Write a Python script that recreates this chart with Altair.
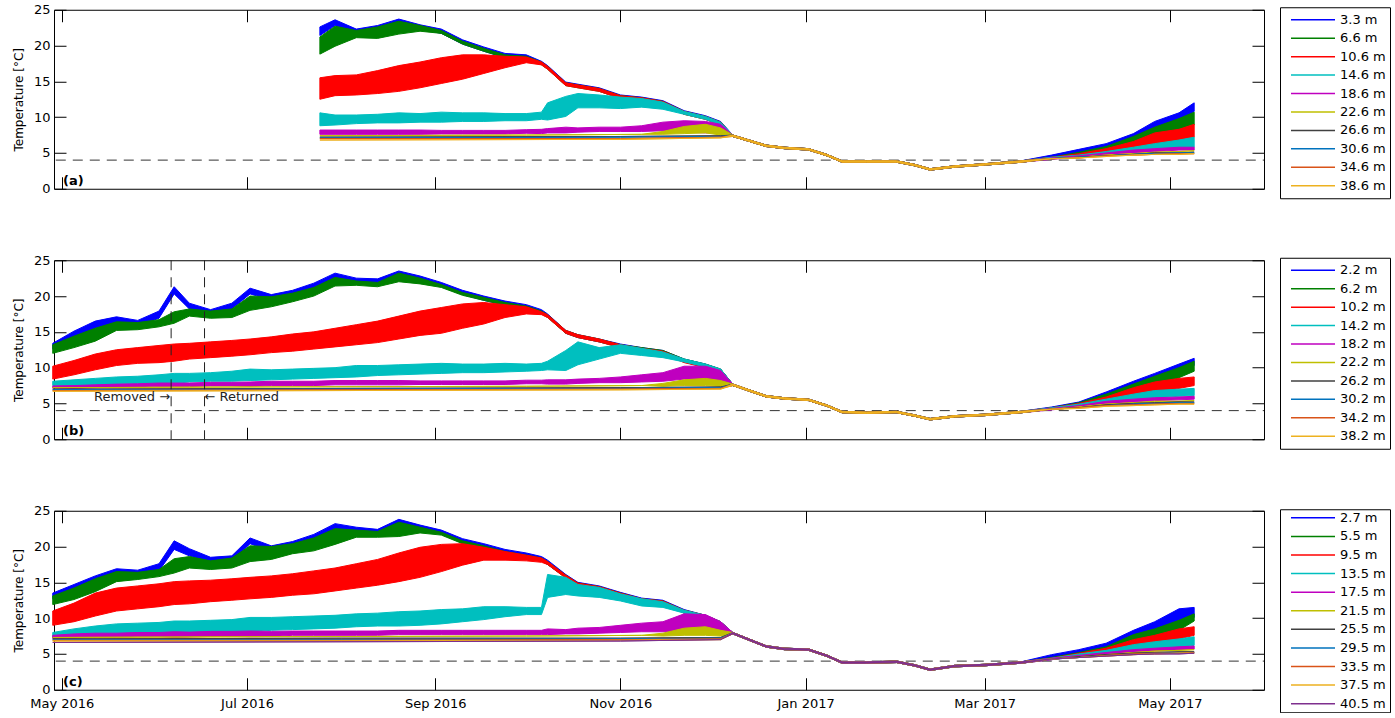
import altair as alt
import pandas as pd

FONT = "DejaVu Sans"

# ---------------- date grids ----------------
PRE_BC = ["2016-04-28", "2016-05-05", "2016-05-12", "2016-05-19", "2016-05-26", "2016-06-02",
          "2016-06-07", "2016-06-12", "2016-06-19", "2016-06-26", "2016-07-02", "2016-07-09",
          "2016-07-16", "2016-07-23", "2016-07-30", "2016-08-06", "2016-08-13", "2016-08-20",
          "2016-08-27", "2016-09-03", "2016-09-10", "2016-09-17", "2016-09-24", "2016-10-01",
          "2016-10-06", "2016-10-08", "2016-10-14", "2016-10-18", "2016-10-25", "2016-11-01",
          "2016-11-08", "2016-11-15", "2016-11-22", "2016-11-29", "2016-12-04"]
PRE_A = ["2016-07-25", "2016-07-30", "2016-08-06", "2016-08-13", "2016-08-20", "2016-08-27",
         "2016-09-03", "2016-09-10", "2016-09-17", "2016-09-24", "2016-10-01", "2016-10-06",
         "2016-10-08", "2016-10-14", "2016-10-18", "2016-10-25", "2016-11-01", "2016-11-08",
         "2016-11-15", "2016-11-22", "2016-11-29", "2016-12-04"]
SPRING = ["2017-03-23", "2017-04-01", "2017-04-10", "2017-04-19", "2017-04-26", "2017-05-04", "2017-05-09"]
WINTER = ["2016-12-08", "2016-12-19", "2016-12-25", "2017-01-02", "2017-01-08", "2017-01-13",
          "2017-01-21", "2017-01-31", "2017-02-06", "2017-02-11", "2017-02-19", "2017-03-01", "2017-03-13"]

# mixed (isothermal) winter temperatures, shared by all loggers of a mooring
A_WINTER_T = [7.4, 6.0, 5.7, 5.5, 4.7, 3.8, 3.8, 3.8, 3.3, 2.7, 3.1, 3.4, 3.8]
B_WINTER_T = [7.6, 6.0, 5.7, 5.5, 4.7, 3.8, 3.7, 3.8, 3.3, 2.8, 3.2, 3.4, 3.8]
C_WINTER_T = [7.9, 6.05, 5.7, 5.6, 4.75, 3.8, 3.8, 3.9, 3.4, 2.8, 3.3, 3.45, 3.8]
WINTER_SPREAD = 0.1

# ---------------- panel (a): (value, noise half-range) on PRE_A + SPRING ----------------
A_3_3 = [(22.0, .6), (23.2, .4), (22.0, .3), (22.4, .4), (23.3, .4), (22.6, .3), (22.0, .3), (20.5, .3),
         (19.5, .3), (18.6, .3), (18.4, .3), (17.6, .2), (17.0, .2), (14.7, .2), (14.4, .2), (13.9, .2),
         (12.9, .2), (12.6, .2), (12.1, .2), (10.7, .2), (10.0, .2), (9.2, .2),
         (4.5, .2), (5.2, .3), (6.0, .3), (7.2, .5), (8.8, .6), (9.9, .7), (11.4, .6)]
A_6_6 = [(20.0, 1.2), (21.3, 1.4), (21.6, .5), (21.8, .8), (22.5, .9), (22.4, .4), (21.9, .2), (20.4, .2),
         (19.4, .2), (18.5, .2), (18.3, .2), (17.5, .2), (16.9, .2), (14.6, .2), (14.3, .2), (13.8, .2),
         (12.8, .2), (12.5, .2), (12.0, .2), (10.6, .2), (9.9, .2), (9.1, .2),
         (4.3, .1), (4.9, .2), (5.6, .3), (6.7, .6), (7.8, .8), (8.8, 1.0), (9.8, .9)]
A_10_6 = [(14.0, 1.5), (14.4, 1.4), (14.5, 1.4), (14.9, 1.6), (15.4, 1.8), (15.9, 1.8), (16.5, 1.8), (17.0, 1.7),
          (17.4, 1.3), (17.7, .8), (18.0, .4), (17.5, .2), (16.9, .2), (14.6, .2), (14.3, .2), (13.8, .2),
          (12.8, .2), (12.5, .2), (12.0, .2), (10.6, .2), (9.9, .2), (9.1, .2),
          (4.3, .1), (4.7, .2), (5.3, .3), (6.0, .6), (6.8, 1.0), (7.3, 1.0), (8.1, .9)]
A_14_6 = [(9.7, .9), (9.6, .7), (9.7, .6), (9.8, .6), (9.9, .7), (9.9, .6), (10.0, .7), (10.0, .6),
          (10.0, .6), (10.0, .5), (10.0, .5), (10.2, .5), (10.8, 1.2), (11.5, 1.4), (12.3, 1.0), (12.2, .9),
          (12.0, .8), (12.0, .6), (11.6, .5), (10.6, .2), (9.9, .2), (9.1, .2),
          (4.3, .1), (4.6, .1), (5.0, .2), (5.5, .3), (5.8, .5), (6.2, .6), (6.5, .7)]
A_18_6 = [(7.9, .3), (7.9, .3), (7.9, .3), (7.9, .3), (7.9, .3), (7.9, .3), (7.9, .25), (7.9, .25),
          (7.9, .25), (7.9, .25), (8.0, .25), (8.0, .3), (8.1, .3), (8.2, .4), (8.2, .3), (8.3, .3),
          (8.3, .3), (8.4, .4), (8.7, .6), (8.7, .8), (8.6, .8), (8.4, .6),
          (4.2, .1), (4.5, .1), (4.9, .1), (5.2, .2), (5.4, .2), (5.6, .2), (5.6, .2)]
# deeper loggers: (date, value[, noise])
A_22_6 = [("2016-07-25", 7.4), ("2016-10-01", 7.5), ("2016-11-08", 7.6), ("2016-11-15", 7.8, .2),
          ("2016-11-22", 8.2, .5), ("2016-11-29", 8.4, .6), ("2016-12-04", 8.0, .5),
          ("2017-03-23", 4.2), ("2017-04-01", 4.4), ("2017-04-10", 4.7), ("2017-04-19", 4.9),
          ("2017-04-26", 5.1), ("2017-05-04", 5.2), ("2017-05-09", 5.3)]
A_26_6 = [("2016-07-25", 7.2), ("2016-11-01", 7.3), ("2016-12-04", 7.4),
          ("2017-03-23", 4.2), ("2017-04-01", 4.4), ("2017-04-10", 4.6), ("2017-04-19", 4.8),
          ("2017-04-26", 5.0), ("2017-05-04", 5.0), ("2017-05-09", 5.1)]
A_30_6 = [("2016-07-25", 7.1), ("2016-11-01", 7.2), ("2016-12-04", 7.3),
          ("2017-03-23", 4.2), ("2017-04-01", 4.4), ("2017-04-10", 4.6), ("2017-04-19", 4.8),
          ("2017-04-26", 4.9), ("2017-05-04", 5.0), ("2017-05-09", 5.0)]
A_34_6 = [("2016-07-25", 7.0), ("2016-11-01", 7.0), ("2016-12-04", 7.2),
          ("2017-03-23", 4.2), ("2017-04-01", 4.3), ("2017-04-10", 4.6), ("2017-04-19", 4.7),
          ("2017-04-26", 4.8), ("2017-05-04", 4.9), ("2017-05-09", 4.9)]
A_38_6 = [("2016-07-25", 6.8), ("2016-11-01", 6.9), ("2016-12-04", 7.1),
          ("2017-03-23", 4.2), ("2017-04-01", 4.3), ("2017-04-10", 4.5), ("2017-04-19", 4.7),
          ("2017-04-26", 4.8), ("2017-05-04", 4.8), ("2017-05-09", 4.9)]

# ---------------- panel (b): on PRE_BC + SPRING ----------------
B_2_2 = [(13.0, .4), (14.6, .5), (16.0, .5), (16.7, .4), (16.2, .4), (17.4, .5), (20.8, .5), (18.6, .4),
         (17.8, .3), (18.6, .4), (20.7, .4), (19.8, .4), (20.4, .4), (21.4, .4), (22.8, .4), (22.2, .3),
         (22.1, .3), (23.1, .4), (22.5, .3), (21.6, .3), (20.5, .3), (19.7, .3), (19.0, .3), (18.5, .3),
         (17.8, .3), (17.3, .2), (15.0, .2), (14.4, .2), (13.8, .2), (13.1, .2), (12.6, .2), (12.2, .2),
         (11.0, .2), (10.3, .2), (9.6, .2),
         (4.4, .1), (5.0, .2), (6.3, .3), (7.5, .6), (8.6, .6), (9.8, .7), (10.8, .5)]
B_6_2 = [(12.6, .6), (13.6, .8), (14.6, .9), (15.8, .6), (15.8, .5), (16.2, .5), (17.0, .8), (17.7, .5),
         (17.4, .5), (17.6, .6), (19.0, 1.0), (19.2, .7), (19.8, .6), (20.6, .6), (22.0, .6), (21.8, .3),
         (21.6, .3), (22.6, .6), (22.1, .4), (21.4, .2), (20.3, .2), (19.6, .2), (18.9, .2), (18.4, .2),
         (17.7, .2), (17.2, .2), (15.0, .2), (14.4, .2), (13.8, .2), (13.0, .2), (12.6, .2), (12.2, .2),
         (11.0, .2), (10.3, .2), (9.6, .2),
         (4.3, .1), (4.9, .2), (6.0, .3), (7.2, .5), (8.2, .6), (9.3, .7), (10.2, .7)]
B_10_2 = [(9.3, .9), (10.0, 1.0), (10.8, 1.1), (11.4, 1.1), (11.7, 1.1), (11.9, 1.2), (12.1, 1.2), (12.3, 1.1),
          (12.5, 1.1), (12.7, 1.1), (12.9, 1.1), (13.2, 1.1), (13.5, 1.2), (13.8, 1.2), (14.2, 1.3), (14.6, 1.4),
          (15.0, 1.5), (15.6, 1.6), (16.2, 1.7), (16.6, 1.8), (17.2, 1.7), (17.6, 1.5), (17.9, .9), (18.0, .5),
          (17.6, .2), (17.2, .2), (15.0, .2), (14.4, .2), (13.8, .2), (13.0, .2), (12.5, .2), (12.1, .2),
          (10.9, .2), (10.2, .2), (9.5, .2),
          (4.3, .1), (4.8, .2), (5.6, .3), (6.7, .5), (7.3, .7), (7.8, .7), (8.1, .6)]
B_14_2 = [(7.8, .3), (7.9, .4), (8.0, .5), (8.2, .5), (8.3, .5), (8.4, .6), (8.5, .7), (8.6, .6),
          (8.7, .6), (8.8, .7), (9.0, .8), (9.0, .7), (9.1, .7), (9.2, .7), (9.3, .7), (9.5, .8),
          (9.6, .7), (9.7, .7), (9.8, .7), (9.9, .7), (9.9, .6), (9.9, .6), (10.0, .6), (10.0, .5),
          (10.1, .5), (10.3, .6), (11.0, 1.4), (12.0, 1.6), (12.0, .8), (12.6, .6), (12.2, .5), (11.8, .4),
          (11.0, .2), (10.3, .2), (9.6, .2),
          (4.3, .1), (4.7, .2), (5.3, .3), (5.9, .4), (6.3, .5), (6.5, .5), (6.6, .5)]
B_18_2 = [(7.3, .15), (7.3, .2), (7.4, .2), (7.5, .2), (7.5, .25), (7.6, .25), (7.6, .25), (7.6, .25),
          (7.7, .25), (7.7, .25), (7.7, .3), (7.8, .3), (7.8, .3), (7.8, .3), (7.9, .3), (7.9, .3),
          (7.9, .3), (7.9, .3), (7.9, .25), (7.9, .25), (7.9, .25), (7.9, .25), (7.9, .25), (8.0, .25),
          (8.0, .25), (8.0, .3), (8.0, .3), (8.1, .3), (8.2, .3), (8.3, .4), (8.5, .5), (8.7, .6),
          (9.3, .9), (9.2, 1.0), (8.8, .8),
          (4.2, .1), (4.6, .1), (5.1, .2), (5.4, .2), (5.6, .2), (5.7, .2), (5.8, .2)]
B_22_2 = [("2016-04-28", 7.2), ("2016-07-01", 7.3), ("2016-10-01", 7.4), ("2016-11-08", 7.5),
          ("2016-11-15", 7.6, .2), ("2016-11-22", 7.9, .4), ("2016-11-29", 8.0, .5), ("2016-12-04", 7.8, .4),
          ("2017-03-23", 4.2), ("2017-04-01", 4.5), ("2017-04-10", 4.9), ("2017-04-19", 5.1),
          ("2017-04-26", 5.3), ("2017-05-04", 5.3), ("2017-05-09", 5.4)]
B_26_2 = [("2016-04-28", 7.0), ("2016-08-01", 7.1), ("2016-11-01", 7.2), ("2016-12-04", 7.3),
          ("2017-03-23", 4.2), ("2017-04-01", 4.4), ("2017-04-10", 4.8), ("2017-04-19", 5.0),
          ("2017-04-26", 5.1), ("2017-05-04", 5.2), ("2017-05-09", 5.2)]
B_30_2 = [("2016-04-28", 6.9), ("2016-08-01", 7.0), ("2016-11-01", 7.1), ("2016-12-04", 7.2),
          ("2017-03-23", 4.2), ("2017-04-01", 4.4), ("2017-04-10", 4.7), ("2017-04-19", 4.9),
          ("2017-04-26", 5.0), ("2017-05-04", 5.1), ("2017-05-09", 5.1)]
B_34_2 = [("2016-04-28", 6.8), ("2016-08-01", 6.9), ("2016-11-01", 7.0), ("2016-12-04", 7.1),
          ("2017-03-23", 4.2), ("2017-04-01", 4.4), ("2017-04-10", 4.7), ("2017-04-19", 4.8),
          ("2017-04-26", 4.9), ("2017-05-04", 5.0), ("2017-05-09", 5.0)]
B_38_2 = [("2016-04-28", 6.7), ("2016-08-01", 6.8), ("2016-11-01", 6.9), ("2016-12-04", 7.0),
          ("2017-03-23", 4.2), ("2017-04-01", 4.3), ("2017-04-10", 4.6), ("2017-04-19", 4.7),
          ("2017-04-26", 4.8), ("2017-05-04", 4.9), ("2017-05-09", 4.9)]

# ---------------- panel (c): on PRE_BC + SPRING ----------------
C_2_7 = [(13.1, .4), (14.2, .5), (15.4, .5), (16.5, .4), (16.3, .4), (17.1, .5), (20.2, .6), (19.2, .5),
         (18.1, .4), (18.3, .4), (20.8, .4), (19.7, .4), (20.3, .4), (21.3, .4), (22.8, .4), (22.4, .3),
         (22.1, .3), (23.4, .4), (22.7, .3), (22.0, .3), (20.8, .3), (20.1, .3), (19.3, .3), (18.8, .3),
         (18.3, .3), (17.8, .3), (15.9, .2), (14.8, .2), (14.3, .2), (13.4, .2), (12.6, .2), (12.3, .2),
         (11.0, .2), (10.2, .2), (9.3, .2),
         (4.6, .3), (5.2, .4), (6.0, .5), (7.7, .6), (8.8, .7), (10.4, .9), (10.8, .7)]
C_5_5 = [(12.5, .6), (13.4, .8), (14.6, .9), (15.8, .7), (15.9, .5), (16.3, .5), (17.3, 1.0), (17.8, .8),
         (17.4, .6), (17.7, .7), (19.0, 1.1), (19.1, .9), (19.7, .7), (20.3, .9), (21.4, 1.1), (21.8, .5),
         (21.7, .4), (22.4, 1.0), (22.3, .4), (21.8, .2), (20.6, .2), (19.9, .2), (19.1, .2), (18.6, .2),
         (18.2, .2), (17.7, .2), (15.8, .2), (14.7, .2), (14.2, .2), (13.3, .2), (12.5, .2), (12.2, .2),
         (10.9, .2), (10.2, .2), (9.3, .2),
         (4.4, .1), (5.0, .2), (5.7, .3), (7.2, .5), (7.9, .6), (9.0, .7), (10.1, .5)]
C_9_5 = [(10.0, 1.0), (10.8, 1.3), (11.9, 1.6), (12.6, 1.6), (12.9, 1.6), (13.2, 1.6), (13.5, 1.6), (13.6, 1.6),
         (13.8, 1.5), (14.0, 1.5), (14.2, 1.5), (14.4, 1.5), (14.7, 1.5), (15.0, 1.6), (15.4, 1.6), (15.9, 1.7),
         (16.4, 1.8), (17.1, 2.0), (17.8, 2.1), (18.4, 1.9), (18.9, 1.5), (19.0, .9), (18.7, .6), (18.4, .4),
         (18.1, .3), (17.7, .2), (15.8, .2), (14.7, .2), (14.2, .2), (13.3, .2), (12.5, .2), (12.2, .2),
         (10.9, .2), (10.2, .2), (9.3, .2),
         (4.3, .1), (4.9, .2), (5.5, .3), (6.5, .5), (7.0, .6), (7.8, .7), (8.2, .6)]
C_13_5 = [(7.6, .4), (7.9, .6), (8.2, .7), (8.4, .8), (8.5, .8), (8.6, .8), (8.7, .9), (8.7, .9),
          (8.8, .9), (8.9, .9), (9.1, 1.0), (9.2, .9), (9.3, .9), (9.4, .9), (9.5, .9), (9.7, .9),
          (9.8, .9), (9.9, 1.0), (10.0, 1.0), (10.2, 1.0), (10.4, .9), (10.7, .9), (10.9, .7), (11.0, .5),
          (11.0, .5), (14.5, 1.6), (14.5, 1.2), (13.9, .8), (13.6, .7), (12.9, .5), (12.2, .5), (11.9, .4),
          (10.9, .2), (10.2, .2), (9.3, .2),
          (4.3, .1), (4.8, .2), (5.2, .3), (5.9, .4), (6.2, .5), (6.5, .6), (6.8, .6)]
C_17_5 = [(7.4, .2), (7.5, .3), (7.6, .3), (7.6, .3), (7.7, .3), (7.7, .3), (7.7, .4), (7.7, .35),
          (7.8, .35), (7.8, .35), (7.8, .4), (7.8, .35), (7.9, .3), (7.9, .3), (7.9, .3), (7.9, .3),
          (7.9, .3), (8.0, .3), (8.0, .3), (8.0, .3), (8.0, .3), (8.0, .3), (8.0, .3), (8.0, .3),
          (8.0, .3), (8.1, .4), (8.1, .3), (8.2, .4), (8.3, .4), (8.5, .5), (8.7, .6), (8.8, .7),
          (9.4, 1.2), (9.3, 1.2), (8.7, .8),
          (4.3, .1), (4.7, .1), (5.0, .2), (5.4, .2), (5.6, .2), (5.8, .2), (5.9, .2)]
C_21_5 = [("2016-04-28", 7.3), ("2016-07-01", 7.4), ("2016-10-01", 7.5), ("2016-11-08", 7.6),
          ("2016-11-15", 7.7, .2), ("2016-11-22", 8.1, .5), ("2016-11-29", 8.2, .6), ("2016-12-04", 7.9, .4),
          ("2017-03-23", 4.3), ("2017-04-01", 4.6), ("2017-04-10", 4.9), ("2017-04-19", 5.2),
          ("2017-04-26", 5.4), ("2017-05-04", 5.5), ("2017-05-09", 5.6)]
C_25_5 = [("2016-04-28", 7.1), ("2016-08-01", 7.2), ("2016-11-01", 7.2), ("2016-12-04", 7.3),
          ("2017-03-23", 4.3), ("2017-04-01", 4.6), ("2017-04-10", 4.9), ("2017-04-19", 5.1),
          ("2017-04-26", 5.2), ("2017-05-04", 5.3), ("2017-05-09", 5.3)]
C_29_5 = [("2016-04-28", 7.0), ("2016-08-01", 7.0), ("2016-11-01", 7.1), ("2016-12-04", 7.2),
          ("2017-03-23", 4.3), ("2017-04-01", 4.5), ("2017-04-10", 4.8), ("2017-04-19", 5.0),
          ("2017-04-26", 5.1), ("2017-05-04", 5.2), ("2017-05-09", 5.2)]
C_33_5 = [("2016-04-28", 6.9), ("2016-08-01", 6.9), ("2016-11-01", 7.0), ("2016-12-04", 7.1),
          ("2017-03-23", 4.3), ("2017-04-01", 4.5), ("2017-04-10", 4.8), ("2017-04-19", 5.0),
          ("2017-04-26", 5.1), ("2017-05-04", 5.1), ("2017-05-09", 5.2)]
C_37_5 = [("2016-04-28", 6.8), ("2016-08-01", 6.8), ("2016-11-01", 6.9), ("2016-12-04", 7.0),
          ("2017-03-23", 4.3), ("2017-04-01", 4.5), ("2017-04-10", 4.7), ("2017-04-19", 4.9),
          ("2017-04-26", 5.0), ("2017-05-04", 5.1), ("2017-05-09", 5.1)]
C_40_5 = [("2016-04-28", 6.6), ("2016-08-01", 6.7), ("2016-11-01", 6.8), ("2016-12-04", 7.0),
          ("2017-03-23", 4.3), ("2017-04-01", 4.5), ("2017-04-10", 4.7), ("2017-04-19", 4.9),
          ("2017-04-26", 5.0), ("2017-05-04", 5.0), ("2017-05-09", 5.1)]

# ---------------- legends / colours ----------------
A_DEPTHS = ["3.3 m", "6.6 m", "10.6 m", "14.6 m", "18.6 m", "22.6 m", "26.6 m", "30.6 m", "34.6 m", "38.6 m"]
B_DEPTHS = ["2.2 m", "6.2 m", "10.2 m", "14.2 m", "18.2 m", "22.2 m", "26.2 m", "30.2 m", "34.2 m", "38.2 m"]
C_DEPTHS = ["2.7 m", "5.5 m", "9.5 m", "13.5 m", "17.5 m", "21.5 m", "25.5 m", "29.5 m", "33.5 m", "37.5 m", "40.5 m"]
COLORS_10 = ["#0000FF", "#008000", "#FF0000", "#00BFBF", "#BF00BF", "#BFBF00", "#404040",
             "#0072BD", "#D95319", "#EDB120"]
COLORS_11 = COLORS_10 + ["#7E2F8E"]

THRESHOLD = 4.0
EVENT_DATES = ["2016-06-06", "2016-06-17"]
EVENT_LABELS = ["Removed \u2192", "\u2190 Returned"]
EVENT_TEMP = 5.9
TICK_MONTHS = [(2016, 5), (2016, 7), (2016, 9), (2016, 11), (2017, 1), (2017, 3), (2017, 5)]
Y_TICKS = [0, 5, 10, 15, 20, 25]

# ---------------- build tables ----------------
def top_rows(label, pre_dates, pairs, winter):
    n = len(pre_dates)
    rows = []
    for d, (v, s) in zip(pre_dates, pairs[:n]):
        rows.append((label, d, v - s, v + s))
    for d, v in zip(WINTER, winter):
        rows.append((label, d, v - WINTER_SPREAD, v + WINTER_SPREAD))
    for d, (v, s) in zip(SPRING, pairs[n:]):
        rows.append((label, d, v - s, v + s))
    return rows


def deep_rows(label, pts, winter):
    items = []
    for p in pts:
        s = p[2] if len(p) > 2 else 0.0
        items.append((p[0], p[1] - s, p[1] + s))
    for d, v in zip(WINTER, winter):
        items.append((d, v - WINTER_SPREAD, v + WINTER_SPREAD))
    items.sort(key=lambda r: r[0])
    return [(label, d, lo, hi) for d, lo, hi in items]


def table(depths, tops, deeps, pre, winter):
    rows = []
    for lab, ser in zip(depths, tops + deeps):
        if isinstance(ser[0][0], str):
            rows += deep_rows(lab, ser, winter)
        else:
            rows += top_rows(lab, pre, ser, winter)
    return pd.DataFrame(rows, columns=["depth", "date", "lo", "hi"])


DF_A = table(A_DEPTHS, [A_3_3, A_6_6, A_10_6, A_14_6, A_18_6],
             [A_22_6, A_26_6, A_30_6, A_34_6, A_38_6], PRE_A, A_WINTER_T)
DF_B = table(B_DEPTHS, [B_2_2, B_6_2, B_10_2, B_14_2, B_18_2],
             [B_22_2, B_26_2, B_30_2, B_34_2, B_38_2], PRE_BC, B_WINTER_T)
DF_C = table(C_DEPTHS, [C_2_7, C_5_5, C_9_5, C_13_5, C_17_5],
             [C_21_5, C_25_5, C_29_5, C_33_5, C_37_5, C_40_5], PRE_BC, C_WINTER_T)

# ---------------- chart ----------------
W, H, TICK = 1210, 179, 12
LEG_W = 110
TICK_DATES = [alt.DateTime(year=y, month=m, date=1, utc=True) for y, m in TICK_MONTHS]
X_DOMAIN = [alt.DateTime(year=2016, month=4, date=28, hours=10, utc=True),
            alt.DateTime(year=2017, month=6, date=1, utc=True)]


def xscale():
    return alt.Scale(type="utc", domain=X_DOMAIN)


def yscale():
    return alt.Scale(domain=[0, 25], nice=False)


def legend_box(depths, colors, height, pad):
    ldf = pd.DataFrame({"depth": depths})
    yenc = alt.Y("depth:N", scale=alt.Scale(type="point", domain=depths, padding=pad), axis=None)
    cenc = alt.Color("depth:N", scale=alt.Scale(domain=depths, range=colors), legend=None)
    lines = alt.Chart(ldf).mark_rule(strokeWidth=1.5).encode(
        x=alt.value(11), x2=alt.value(55), y=yenc, color=cenc)
    labels = alt.Chart(ldf).mark_text(align="left", baseline="middle", fontSize=13, font=FONT,
                                      color="black").encode(x=alt.value(60), y=yenc, text="depth:N")
    return alt.layer(lines, labels).properties(width=LEG_W, height=height)


def panel(df, depths, colors, tag, show_labels, leg_h, leg_pad, extras=()):
    x_bottom = alt.Axis(orient="bottom", offset=-TICK, tickSize=TICK, domain=False, grid=False,
                        values=TICK_DATES, format="%b %Y", labels=show_labels, labelPadding=8,
                        labelFlush=False, labelOverlap=False, title=None, tickColor="black")
    x_top = alt.Axis(orient="top", offset=-TICK, tickSize=TICK, domain=False, grid=False,
                     values=TICK_DATES, labels=False, title=None, tickColor="black")
    y_left = alt.Axis(orient="left", offset=-TICK, tickSize=TICK, domain=False, grid=False,
                      values=Y_TICKS, labelPadding=4, title="Temperature [\u00b0C]",
                      titlePadding=8, tickColor="black")
    y_right = alt.Axis(orient="right", offset=-TICK, tickSize=TICK, domain=False, grid=False,
                       values=Y_TICKS, labels=False, title=None, tickColor="black")

    thr = alt.Chart(pd.DataFrame({"x0": ["2016-04-01"], "x1": ["2017-07-01"], "y": [THRESHOLD]})).mark_rule(
        strokeDash=[10, 7], color="#333333", strokeWidth=1, clip=True
    ).encode(
        x=alt.X("x0:T", scale=xscale(), axis=x_top),
        x2="x1:T",
        y=alt.Y("y:Q", scale=yscale(), axis=y_right),
    )

    area = alt.Chart(df).mark_area(strokeWidth=1, fillOpacity=1, strokeJoin="round").encode(
        x=alt.X("date:T", scale=xscale(), axis=x_bottom),
        y=alt.Y("lo:Q", scale=yscale(), axis=y_left),
        y2="hi:Q",
        fill=alt.Fill("depth:N", scale=alt.Scale(domain=depths, range=colors), legend=None),
        stroke=alt.Stroke("depth:N", scale=alt.Scale(domain=depths, range=colors), legend=None),
    )

    tag_layer = alt.Chart(pd.DataFrame({"t": [tag]})).mark_text(
        align="left", baseline="bottom", fontWeight="bold", fontSize=13, font=FONT, color="black"
    ).encode(x=alt.value(9), y=alt.value(H - 1), text="t:N")

    main = alt.layer(thr, area, tag_layer, *extras).resolve_axis(
        x="independent", y="independent"
    ).properties(width=W, height=H)

    return alt.hconcat(main, legend_box(depths, colors, leg_h, leg_pad), spacing=14, center=True).resolve_scale(
        x="independent", y="independent", color="independent", fill="independent", stroke="independent"
    )


ev_df = pd.DataFrame({"date": EVENT_DATES, "label": EVENT_LABELS, "t": [EVENT_TEMP, EVENT_TEMP]})
ev_rules = alt.Chart(ev_df).mark_rule(strokeDash=[10, 7], color="#222222", strokeWidth=1).encode(
    x=alt.X("date:T", scale=xscale(), axis=None)
)
ev_left = alt.Chart(ev_df.iloc[[0]]).mark_text(
    align="right", baseline="middle", fontSize=13, font=FONT, color="#222222", dx=-1
).encode(x=alt.X("date:T", scale=xscale(), axis=None), y=alt.Y("t:Q", scale=yscale(), axis=None), text="label:N")
ev_right = alt.Chart(ev_df.iloc[[1]]).mark_text(
    align="left", baseline="middle", fontSize=13, font=FONT, color="#222222", dx=0
).encode(x=alt.X("date:T", scale=xscale(), axis=None), y=alt.Y("t:Q", scale=yscale(), axis=None), text="label:N")

pa = panel(DF_A, A_DEPTHS, COLORS_10, "(a)", False, 191, 0.68)
pb = panel(DF_B, B_DEPTHS, COLORS_10, "(b)", False, 191, 0.68, extras=(ev_rules, ev_left, ev_right))
pc = panel(DF_C, C_DEPTHS, COLORS_11, "(c)", True, 203, 0.46)

chart = alt.vconcat(pa, pb, pc, spacing=54.5).resolve_scale(
    x="independent", y="independent", color="independent", fill="independent", stroke="independent"
).properties(
    padding={"left": 11, "top": 3, "right": 0, "bottom": 0}, background="white"
).configure(font=FONT).configure_view(
    stroke="black", strokeWidth=1
).configure_axis(
    labelFont=FONT, titleFont=FONT, labelFontSize=13, titleFontSize=12, labelColor="black",
    titleColor="black", titleFontWeight="normal"
)

chart.save("out.html", embed_options={"renderer": "svg", "actions": False})
